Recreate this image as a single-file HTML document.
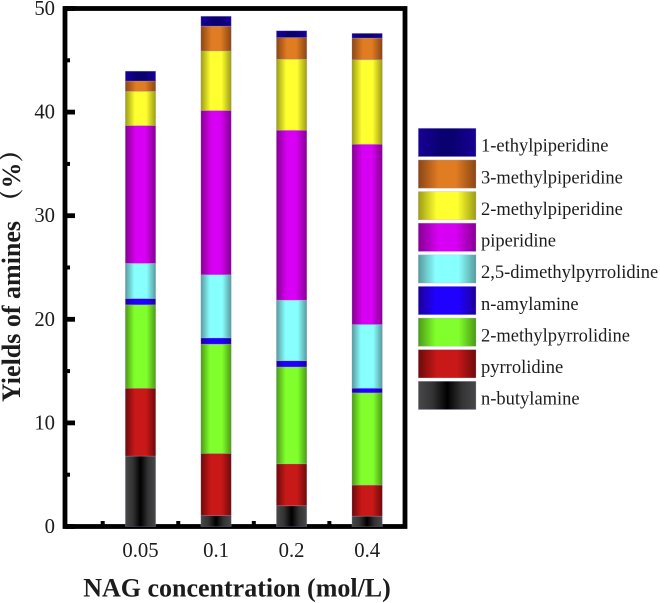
<!DOCTYPE html>
<html>
<head>
<meta charset="utf-8">
<style>
html,body{margin:0;padding:0;background:#fff;width:660px;height:603px;overflow:hidden}
svg{display:block}
text{font-family:"Liberation Serif","Noto Serif CJK SC",serif;fill:#1c1c1c}
</style>
</head>
<body>
<svg id="chart" width="660" height="603" viewBox="0 0 660 603" xmlns="http://www.w3.org/2000/svg">
<defs>
<linearGradient id="g0"><stop offset="0" stop-color="#484848"/><stop offset=".25" stop-color="#333"/><stop offset=".5" stop-color="#000"/><stop offset=".75" stop-color="#333"/><stop offset="1" stop-color="#484848"/></linearGradient>
<linearGradient id="g1"><stop offset="0" stop-color="#6e0a0a"/><stop offset=".32" stop-color="#c81818"/><stop offset=".68" stop-color="#c81818"/><stop offset="1" stop-color="#6e0a0a"/></linearGradient>
<linearGradient id="g2"><stop offset="0" stop-color="#4c9a14"/><stop offset=".3" stop-color="#80ff2c"/><stop offset=".7" stop-color="#80ff2c"/><stop offset="1" stop-color="#4c9a14"/></linearGradient>
<linearGradient id="g3"><stop offset="0" stop-color="#1c0098"/><stop offset=".3" stop-color="#2000ff"/><stop offset=".7" stop-color="#2000ff"/><stop offset="1" stop-color="#1c0098"/></linearGradient>
<linearGradient id="g4"><stop offset="0" stop-color="#589a9c"/><stop offset=".3" stop-color="#88ffff"/><stop offset=".7" stop-color="#88ffff"/><stop offset="1" stop-color="#589a9c"/></linearGradient>
<linearGradient id="g5"><stop offset="0" stop-color="#850090"/><stop offset=".35" stop-color="#d800f4"/><stop offset=".65" stop-color="#d800f4"/><stop offset="1" stop-color="#850090"/></linearGradient>
<linearGradient id="g6"><stop offset="0" stop-color="#9c9c14"/><stop offset=".32" stop-color="#ffff30"/><stop offset=".68" stop-color="#ffff30"/><stop offset="1" stop-color="#9c9c14"/></linearGradient>
<linearGradient id="g7"><stop offset="0" stop-color="#8a4614"/><stop offset=".35" stop-color="#e07c22"/><stop offset=".65" stop-color="#e07c22"/><stop offset="1" stop-color="#8a4614"/></linearGradient>
<linearGradient id="g8"><stop offset="0" stop-color="#180096"/><stop offset=".4" stop-color="#0a0070"/><stop offset=".6" stop-color="#0a0070"/><stop offset="1" stop-color="#180096"/></linearGradient>
</defs>
<rect x="65" y="8.5" width="340" height="518" fill="none" stroke="#000" stroke-width="4.8"/>
<g id="axes"></g>
<g id="bars"></g>
<g id="legend"></g>
<text transform="translate(20,402) rotate(-90)" font-size="26" font-weight="bold">Yields of amines （%）</text>
<text x="237" y="596.5" text-anchor="middle" font-size="26" font-weight="bold">NAG concentration (mol/L)</text>
</svg>
<script>
const categories = ['0.05', '0.1', '0.2', '0.4'];
const nButylamine = [6.8, 1.05, 2.0, 1.0];
const pyrrolidine = [6.55, 6.0, 4.05, 3.0];
const methylpyrrolidine2 = [8.05, 10.55, 9.35, 8.9];
const nAmylamine = [0.6, 0.6, 0.6, 0.45];
const dimethylpyrrolidine25 = [3.4, 6.1, 5.85, 6.15];
const piperidine = [13.3, 15.85, 16.4, 17.4];
const methylpiperidine2 = [3.3, 5.75, 6.85, 8.15];
const methylpiperidine3 = [1.0, 2.4, 2.1, 2.1];
const ethylpiperidine1 = [0.95, 0.95, 0.65, 0.45];
const seriesNames = ['n-butylamine', 'pyrrolidine', '2-methylpyrrolidine', 'n-amylamine', '2,5-dimethylpyrrolidine', 'piperidine', '2-methylpiperidine', '3-methylpiperidine', '1-ethylpiperidine'];
const seriesValues = [nButylamine, pyrrolidine, methylpyrrolidine2, nAmylamine, dimethylpyrrolidine25, piperidine, methylpiperidine2, methylpiperidine3, ethylpiperidine1];
const yTickLabels = [0, 10, 20, 30, 40, 50];
const yMinorTicks = [5, 15, 25, 35, 45];

const NS = 'http://www.w3.org/2000/svg';
const yScale = v => 526.5 - v * 10.36;
const xScale = i => 140.5 + i * 75.55;
const barWidth = 30.4;

function make(tag, parent, attrs, text) {
  const el = document.createElementNS(NS, tag);
  for (const k in attrs) el.setAttribute(k, attrs[k]);
  if (text !== undefined) el.textContent = text;
  parent.appendChild(el);
  return el;
}

const axes = document.getElementById('axes');
yTickLabels.forEach(v => {
  const tick = make('rect', axes, {x: 65, y: yScale(v) - 2.4, width: 10, height: 4.8, fill: '#000'});
  
  
  const label = make('text', axes, {x: 55, y: yScale(v) + 6.5, 'text-anchor': 'end', 'font-size': 20.7}, String(v));
  
  
});
yMinorTicks.forEach(v => {
  const tick = make('rect', axes, {x: 65, y: yScale(v) - 2, width: 5, height: 4, fill: '#000'});
  
  
});
categories.forEach((c, i) => {
  const tick = make('rect', axes, {x: xScale(i) - 37.8 - 2, y: 521, width: 4, height: 4, fill: '#000'});
  
  
  const label = make('text', axes, {x: xScale(i), y: 557, 'text-anchor': 'middle', 'font-size': 20.7}, c);
  
  
});

const bars = document.getElementById('bars');
categories.forEach((c, i) => {
  let total = 0;
  seriesValues.forEach((vals, s) => {
    const top = yScale(total + vals[i]);
    const bottom = yScale(total);
    const seg = make('rect', bars, {x: xScale(i) - barWidth / 2, y: top, width: barWidth, height: bottom - top, fill: 'url(#g' + s + ')', stroke: 'rgba(170,170,225,.35)', 'stroke-width': 0.7});
    
    
    total += vals[i];
  });
});

const legend = document.getElementById('legend');
seriesNames.slice().reverse().forEach((name, idx) => {
  const s = seriesNames.length - 1 - idx;
  const y = 128.3 + idx * 31.62;
  const swatch = make('rect', legend, {x: 418.3, y: y, width: 57.7, height: 28.3, fill: 'url(#g' + s + ')', stroke: 'rgba(170,170,225,.45)', 'stroke-width': 0.7});
  
  
  const label = make('text', legend, {x: 481, y: y + 23.4, 'font-size': 18.5}, name);
  
  
});
</script>
</body>
</html>
